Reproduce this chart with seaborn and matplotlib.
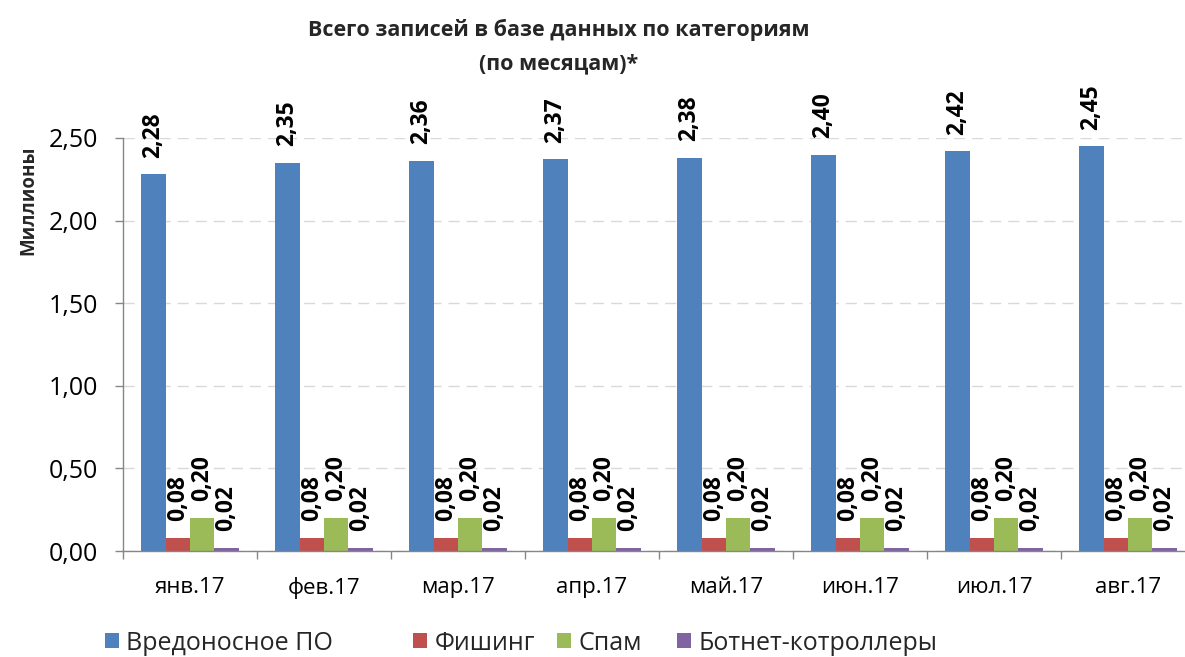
import pandas as pd
import seaborn as sns
import matplotlib.pyplot as plt
from matplotlib.patches import Patch
from matplotlib.ticker import FuncFormatter

# data (millions)
months = ['янв.17', 'фев.17', 'мар.17', 'апр.17', 'май.17', 'июн.17', 'июл.17', 'авг.17']
categories = ['Вредоносное ПО', 'Фишинг', 'Спам', 'Ботнет-котроллеры']
malware = [2.28, 2.35, 2.36, 2.37, 2.38, 2.40, 2.42, 2.45]
phishing = [0.08, 0.08, 0.08, 0.08, 0.08, 0.08, 0.08, 0.08]
spam = [0.20, 0.20, 0.20, 0.20, 0.20, 0.20, 0.20, 0.20]
botnet = [0.02, 0.02, 0.02, 0.02, 0.02, 0.02, 0.02, 0.02]
colors = ['#4F81BD', '#C0504D', '#9BBB59', '#8064A2']

rows = []
for cat, vals in zip(categories, [malware, phishing, spam, botnet]):
    for m, v in zip(months, vals):
        rows.append({'Месяц': m, 'Категория': cat, 'Значение': v})
df = pd.DataFrame(rows)

sns.set_theme(style='white')
plt.rcParams['font.family'] = ['Open Sans', 'DejaVu Sans']

W, H = 1185, 657
fig = plt.figure(figsize=(W / 100, H / 100), dpi=100)
ax = fig.add_axes([123 / W, 1 - 551 / H, 1072 / W, 413 / H])

sns.barplot(data=df, x='Месяц', y='Значение', hue='Категория',
            order=months, hue_order=categories, palette=colors,
            width=0.725, saturation=1, legend=False, linewidth=0, ax=ax)

def comma(v):
    return f'{v:.2f}'.replace('.', ',')

for cont in ax.containers:
    ax.bar_label(cont, labels=[comma(v) for v in cont.datavalues],
                 rotation=90, padding=12, fontsize=16.5, fontweight='bold',
                 color='black', clip_on=False)

ax.set_ylim(0, 2.5)
ax.set_yticks([0, 0.5, 1.0, 1.5, 2.0, 2.5])
ax.yaxis.set_major_formatter(FuncFormatter(lambda v, p: comma(v)))
ax.yaxis.grid(True, color='#D9D9D9', linestyle=(0, (8, 5)), linewidth=1)
ax.set_axisbelow(True)

ax.set_xticks(range(len(months)))
ax.set_xticklabels(months)
ax.set_xticks([i - 0.5 for i in range(len(months) + 1)], minor=True)
ax.set_xlim(-0.5, len(months) - 0.5)
ax.tick_params(axis='x', which='major', length=0, pad=19, labelsize=16, colors='black')
ax.tick_params(axis='x', which='minor', length=6, width=1, color='#868686', direction='out', bottom=True)
ax.tick_params(axis='y', which='major', length=6, width=1, color='#868686', direction='out',
               left=True, pad=12, labelsize=18, labelcolor='black')

ax.set_xlabel('')
ax.set_ylabel('')
for s in ['top', 'right']:
    ax.spines[s].set_visible(False)
for s in ['left', 'bottom']:
    ax.spines[s].set_color('#868686')
    ax.spines[s].set_linewidth(1)

fig.text(559 / W, 1 - 30 / H, 'Всего записей в базе данных по категориям',
         ha='center', va='center', fontsize=15.5, fontweight='bold')
fig.text(559 / W, 1 - 64 / H, '(по месяцам)*',
         ha='center', va='center', fontsize=15.5, fontweight='bold')
fig.text(28 / W, 1 - 200 / H, 'Миллионы', rotation=90,
         ha='center', va='center', fontsize=13.5, fontweight='bold')

# legend items placed as Excel does
leg_x = [105, 413, 557, 677]
for cat, col, x in zip(categories, colors, leg_x):
    fig.legend(handles=[Patch(facecolor=col, edgecolor='none')], labels=[cat],
               loc='center left', bbox_to_anchor=(x / W, 1 - 643 / H),
               frameon=False, fontsize=18, handlelength=0.55, handleheight=0.55,
               handletextpad=0.3, borderpad=0, borderaxespad=0)

fig.savefig('out.png', dpi=100)
